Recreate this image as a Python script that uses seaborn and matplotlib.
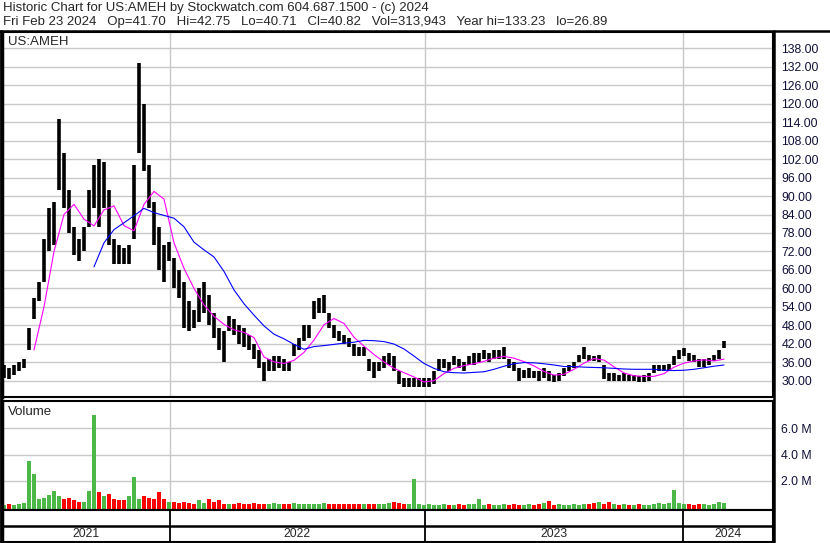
import numpy as np
import pandas as pd
import matplotlib
matplotlib.use("Agg")
import matplotlib.pyplot as plt
from matplotlib.lines import Line2D
import seaborn as sns

# Stockwatch historic chart for US:AMEH
# one bar per trading week (low / high), volume in millions of shares
week_low = [31, 30.5, 32, 33, 34, 40, 50, 56, 62, 72,
            74, 92, 86, 78, 71, 69, 72, 80, 86, 80,
            86, 74, 68, 68, 68, 68, 76, 104, 98, 86,
            74, 66, 62, 69, 60, 57, 47, 46, 47, 49,
            52, 48, 44, 40, 36, 46, 45, 42, 41, 40,
            37, 34, 30, 33, 33, 34, 33, 33, 38, 40,
            43, 44, 50, 52, 52, 47, 44, 43, 42, 41,
            38, 38, 38, 33, 31, 33, 34, 35, 33, 29,
            28, 28, 28, 28, 28, 28, 29, 33, 34, 33,
            35, 34, 33, 35, 35, 36, 37, 36, 37, 37,
            37, 34, 33, 30, 31, 31, 31, 30, 31, 30,
            29.5, 30, 31.5, 33, 34, 36, 37, 36.5, 36.5, 36,
            30.5, 30, 30, 30, 30, 30, 30, 29.5, 29.5, 30,
            32.5, 33, 33, 33, 35, 37, 38, 36.5, 36, 34.5,
            34.5, 35, 36.5, 37, 40.71]
week_high = [35, 34, 35, 36, 37, 47, 57, 62, 76, 86,
             88, 115, 104, 92, 80, 76, 80, 92, 100, 102,
             101, 92, 76, 74, 73, 74, 100, 133.2, 120, 100,
             88, 80, 74, 75, 70, 66, 62, 56, 53, 60,
             62, 58, 52, 47, 46, 51, 50, 48, 47, 45,
             42, 40, 36, 37, 38, 38, 37, 36, 42, 44,
             48, 48, 56, 57, 58, 52, 48, 46, 45, 44,
             42, 41, 41, 37, 36, 36, 38, 39, 38, 33,
             31, 31, 31, 31, 31, 31, 33, 37, 37, 36,
             38, 37, 36, 38, 39, 39, 40, 39, 40, 40,
             41, 37, 36, 34, 33.5, 34, 33, 33, 34, 33,
             32, 32.5, 34, 35, 36, 38.5, 41, 38.5, 38, 38.5,
             35, 32.5, 32.5, 32, 32.5, 32, 32, 31.5, 32, 32.5,
             35, 35, 35, 35.5, 38, 40, 40.5, 39, 38.5, 37,
             37, 37.5, 38.5, 40, 42.75]
volume_m = [0.15, 0.2, 0.15, 0.2, 0.3, 3.5, 2.5, 0.6, 0.7, 0.9,
            1.2, 0.8, 0.6, 0.7, 0.5, 0.4, 0.4, 1.2, 7.0, 1.1,
            0.8, 1.0, 0.6, 0.5, 0.5, 0.8, 2.3, 0.6, 0.8, 0.7,
            0.6, 1.15, 0.6, 0.4, 0.4, 0.3, 0.4, 0.3, 0.2, 0.5,
            0.3, 0.6, 0.4, 0.5, 0.2, 0.2, 0.2, 0.3, 0.2, 0.2,
            0.3, 0.2, 0.2, 0.2, 0.3, 0.2, 0.2, 0.2, 0.3, 0.2,
            0.2, 0.2, 0.2, 0.2, 0.3, 0.2, 0.2, 0.2, 0.2, 0.2,
            0.2, 0.2, 0.2, 0.2, 0.2, 0.2, 0.2, 0.3, 0.4, 0.3,
            0.2, 0.2, 2.1, 0.2, 0.15, 0.2, 0.15, 0.15, 0.2, 0.15,
            0.15, 0.2, 0.15, 0.2, 0.2, 0.6, 0.15, 0.2, 0.15, 0.15,
            0.2, 0.15, 0.2, 0.15, 0.15, 0.2, 0.15, 0.2, 0.25, 0.45,
            0.15, 0.2, 0.15, 0.15, 0.2, 0.15, 0.2, 0.2, 0.25, 0.4,
            0.2, 0.4, 0.2, 0.15, 0.2, 0.15, 0.15, 0.2, 0.15, 0.15,
            0.2, 0.25, 0.2, 0.25, 1.3, 0.25, 0.2, 0.2, 0.15, 0.2,
            0.2, 0.15, 0.2, 0.4, 0.3]

# moving averages, read every 2nd week
ma_fast = [40, 54, 72, 84, 87.3, 82.5, 80.3, 85.5, 86.8, 80.4,
           78.7, 87.3, 91.5, 89, 74.8, 66.5, 60, 54.6, 50.9, 48.3,
           46.5, 45.7, 44, 37.7, 36.1, 35.6, 36.6, 39.2, 43.2, 48.2,
           50.2, 48.6, 44.1, 41.2, 38.5, 36.1, 34, 32.6, 31.2, 29.6,
           30, 32.3, 34, 34.9, 35.5, 36.3, 37.3, 37.9, 37.3, 36.2,
           34.8, 33, 31.8, 32.1, 33.7, 35.7, 37.2, 36.7, 34.5, 32.5,
           31.6, 31.4, 31.4, 32.3, 34.4, 35.7, 36.4, 36.8, 36.4, 37]
ma_fast_start = 6
ma_slow = [67, 74.8, 79.1, 81.3, 83.6, 86, 84.6, 83.7, 82.8, 80,
           75, 72.5, 70.2, 65.5, 59.5, 55, 51.3, 47.8, 45.1, 43.6,
           41.8, 40.2, 41.1, 41.4, 41.8, 42.2, 42.5, 43.1, 43, 42.7,
           41.9, 40.3, 38, 35.6, 34, 32.9, 32.6, 32.5, 32.7, 32.9,
           33.7, 34.7, 35.5, 35.9, 35.8, 35.5, 35.1, 34.6, 34.6, 34.4,
           34.3, 34.2, 34, 33.8, 33.7, 33.7, 33.7, 33.4, 33.3, 33.4,
           33.7, 34.2, 34.7, 35.1]
ma_slow_start = 18

price_ticks = [30, 36, 42, 48, 54, 60, 66, 72, 78, 84, 90, 96,
               102, 108, 114, 120, 126, 132, 138]
vol_ticks = [2, 4, 6]
years = ["2021", "2022", "2023", "2024"]
year_breaks = [33.2, 84.2, 135.8]  # week index where a new year begins

header1 = "Historic Chart for US:AMEH by Stockwatch.com 604.687.1500 - (c) 2024"
header2 = ("Fri Feb 23 2024   Op=41.70   Hi=42.75   Lo=40.71   Cl=40.82   "
           "Vol=313,943   Year hi=133.23   lo=26.89")

sns.set_style("white")
plt.rcParams["font.family"] = ["Liberation Sans", "DejaVu Sans"]

df = pd.DataFrame({"week": np.arange(len(week_low)), "low": week_low,
                   "high": week_high, "vol": volume_m})
df["mid"] = (df["low"] + df["high"]) / 2
df["up"] = df["mid"].diff().fillna(0) >= 0
fast = pd.DataFrame({"week": ma_fast_start + 2 * np.arange(len(ma_fast)), "ma": ma_fast})
slow = pd.DataFrame({"week": ma_slow_start + 2 * np.arange(len(ma_slow)), "ma": ma_slow})

W, H = 830, 543
fig = plt.figure(figsize=(W / 100, H / 100), dpi=100)


def box(top, bottom):
    return [2 / W, 1 - bottom / H, 771 / W, (bottom - top) / H]


ax_p = fig.add_axes(box(32, 397))
ax_v = fig.add_axes(box(401, 510))
ax_d = fig.add_axes(box(510, 542))
xlim = (-0.4, 153.8)
grid_c = "#c8c8c8"
label_fs = 9.5
tick_fs = 8.8

# price panel
ax_p.vlines(df["week"], df["low"], df["high"], color="black", lw=2.6)
sns.lineplot(data=fast, x="week", y="ma", ax=ax_p, color="#ff00ff", lw=0.8)
sns.lineplot(data=slow, x="week", y="ma", ax=ax_p, color="#0000ff", lw=0.8)
ax_p.set_xlim(xlim)
ax_p.set_ylim(24.7, 143.3)
ax_p.set_yticks(price_ticks)
ax_p.set_yticklabels([f"{t:.2f}" for t in price_ticks])
for t in price_ticks:
    ax_p.axhline(t, color=grid_c, lw=1, zorder=0)
for b in year_breaks:
    ax_p.axvline(b, color=grid_c, lw=1, zorder=0)
ax_p.text(6 / 771, 1 - 10 / 365, "US:AMEH", transform=ax_p.transAxes,
          va="center", ha="left", fontsize=label_fs)

# volume panel
colors = np.where(df["up"], "#4cb848", "#ff0000")
ax_v.bar(df["week"], df["vol"] + 0.25, bottom=-0.25, width=0.8, color=colors, lw=0)
ax_v.set_xlim(xlim)
ax_v.set_ylim(-0.25, 8.1)
ax_v.set_yticks(vol_ticks)
ax_v.set_yticklabels([f"{t:.1f} M" for t in vol_ticks])
for t in vol_ticks:
    ax_v.axhline(t, color=grid_c, lw=1, zorder=0)
for b in year_breaks:
    ax_v.axvline(b, color=grid_c, lw=1, zorder=0)
ax_v.text(6 / 771, 1 - 11 / 109, "Volume", transform=ax_v.transAxes,
          va="center", ha="left", fontsize=label_fs)

# date strip
ax_d.set_xlim(xlim)
ax_d.set_ylim(0, 1)
ax_d.axhline(0.5, color="black", lw=1.8)
ax_d.vlines(year_breaks, 0, 1, color="black", lw=1.3)
edges = [xlim[0]] + year_breaks + [xlim[1]]
for i, yr in enumerate(years):
    ax_d.text((edges[i] + edges[i + 1]) / 2, 0.24, yr, ha="center", va="center",
              fontsize=tick_fs)

for ax in (ax_p, ax_v, ax_d):
    ax.set_xlabel("")
    ax.set_ylabel("")
    ax.set_xticks([])
    ax.yaxis.tick_right()
    ax.tick_params(axis="y", length=0, pad=6, labelsize=tick_fs, labelcolor="#10103a")
    for s in ax.spines.values():
        s.set_visible(True)
        s.set_color("black")
        s.set_linewidth(1.5)
    ax.spines["left"].set_linewidth(2.5)
ax_d.set_yticks([])

# header and outer frame lines
fig.text(3 / W, 1 - 8 / H, header1, ha="left", va="center", fontsize=label_fs)
fig.text(3 / W, 1 - 21.5 / H, header2, ha="left", va="center", fontsize=label_fs)
fig.add_artist(Line2D([0, 1], [1 - 30.5 / H] * 2, color="black", lw=1.8))
fig.add_artist(Line2D([773.5 / W] * 2, [0, 1 - 30.5 / H], color="black", lw=1.8))
fig.add_artist(Line2D([0.5 / W] * 2, [0, 1 - 30.5 / H], color="black", lw=2))

fig.savefig("out.png", dpi=100)
